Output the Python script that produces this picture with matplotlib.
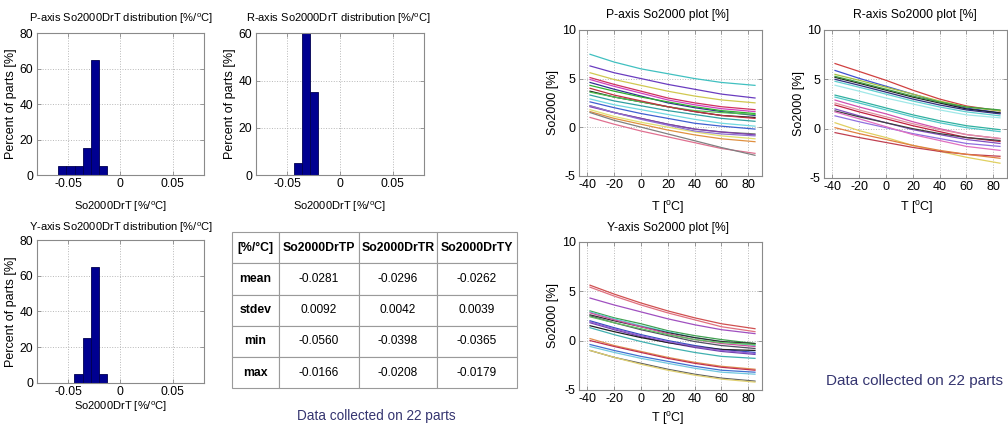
import numpy as np
import matplotlib
matplotlib.use("Agg")
import matplotlib.pyplot as plt

# ---- data ----
# histogram bins (edges) and percent of parts per bin
p_edges = [-0.0595, -0.0516, -0.0437, -0.0358, -0.0280, -0.0205, -0.0125]
p_pct = [5, 5, 5, 15, 65, 5]
r_edges = [-0.0436, -0.0356, -0.0281, -0.0206]
r_pct = [5, 60, 35]
y_edges = [-0.0440, -0.0358, -0.0280, -0.0205, -0.0125]
y_pct = [5, 25, 65, 5]

# summary table
tbl_cols = ["[%/°C]", "So2000DrTP", "So2000DrTR", "So2000DrTY"]
tbl_rows = ["mean", "stdev", "min", "max"]
tbl_vals = [
    ["-0.0281", "-0.0296", "-0.0262"],
    ["0.0092", "0.0042", "0.0039"],
    ["-0.0560", "-0.0398", "-0.0365"],
    ["-0.0166", "-0.0208", "-0.0179"],
]

# So2000 [%] vs temperature, one row per part
temps = [-38, -20, 0, 20, 40, 60, 85]
p_curves = [
    [7.5, 6.7, 6.0, 5.5, 5.0, 4.6, 4.3],
    [6.3, 5.6, 5.0, 4.4, 3.9, 3.4, 3.0],
    [5.6, 4.9, 4.3, 3.7, 3.2, 2.8, 2.5],
    [5.1, 4.4, 3.7, 3.0, 2.5, 2.1, 1.8],
    [4.9, 4.2, 3.5, 2.8, 2.3, 1.9, 1.6],
    [4.6, 3.9, 3.2, 2.5, 2.0, 1.6, 1.2],
    [4.3, 3.7, 3.1, 2.6, 2.1, 1.7, 1.4],
    [3.7, 3.1, 2.6, 2.1, 1.6, 1.2, 1.0],
    [3.6, 3.1, 2.6, 2.1, 1.7, 1.5, 1.3],
    [4.0, 3.3, 2.7, 2.1, 1.6, 1.2, 0.9],
    [2.9, 2.3, 1.8, 1.3, 0.8, 0.4, 0.1],
    [2.6, 2.0, 1.4, 0.9, 0.4, 0.1, -0.2],
    [2.2, 1.5, 0.9, 0.3, -0.2, -0.5, -0.7],
    [2.1, 1.5, 0.9, 0.3, -0.2, -0.5, -0.8],
    [1.6, 0.9, 0.3, -0.3, -0.8, -1.2, -1.5],
    [1.8, 1.1, 0.5, 0.0, -0.5, -0.9, -1.2],
    [1.0, 0.3, -0.4, -1.0, -1.6, -2.2, -2.7],
    [1.5, 0.7, 0.0, -0.7, -1.4, -2.1, -2.9],
    [2.2, 1.5, 0.8, 0.2, -0.4, -0.7, -0.9],
    [3.3, 2.7, 2.2, 1.7, 1.3, 0.9, 0.6],
]
r_curves = [
    [6.6, 5.8, 4.9, 3.9, 3.0, 2.3, 1.8],
    [5.9, 5.1, 4.3, 3.5, 2.7, 2.1, 1.6],
    [5.5, 4.9, 4.2, 3.5, 2.8, 2.2, 1.8],
    [5.2, 4.6, 3.9, 3.2, 2.6, 2.0, 1.6],
    [5.0, 4.4, 3.7, 3.0, 2.4, 1.9, 1.5],
    [5.3, 4.7, 4.0, 3.3, 2.7, 2.2, 1.9],
    [4.8, 4.2, 3.5, 2.8, 2.2, 1.7, 1.3],
    [4.4, 3.8, 3.1, 2.5, 1.9, 1.4, 1.1],
    [3.4, 2.8, 2.1, 1.4, 0.8, 0.3, -0.1],
    [3.2, 2.6, 1.9, 1.2, 0.6, 0.1, -0.3],
    [2.9, 2.2, 1.5, 0.7, 0.0, -0.6, -1.0],
    [2.4, 1.7, 1.0, 0.3, -0.3, -0.9, -1.3],
    [2.0, 1.3, 0.6, -0.1, -0.6, -1.1, -1.5],
    [1.8, 1.2, 0.6, 0.0, -0.5, -0.9, -1.2],
    [1.3, 0.7, 0.1, -0.5, -1.0, -1.5, -1.8],
    [1.7, 1.0, 0.2, -0.6, -1.2, -1.8, -2.2],
    [0.6, -0.2, -0.9, -1.7, -2.3, -2.9, -3.5],
    [-0.4, -0.9, -1.4, -1.9, -2.3, -2.6, -2.8],
    [0.1, -0.5, -1.1, -1.7, -2.2, -2.6, -3.0],
    [2.6, 1.9, 1.2, 0.5, -0.1, -0.6, -1.0],
]
y_curves = [
    [5.6, 4.7, 3.8, 3.0, 2.3, 1.7, 1.2],
    [5.4, 4.5, 3.6, 2.8, 2.1, 1.4, 0.9],
    [4.3, 3.6, 2.9, 2.2, 1.6, 1.1, 0.7],
    [3.0, 2.3, 1.7, 1.0, 0.5, 0.1, -0.3],
    [2.9, 2.2, 1.5, 0.9, 0.3, -0.1, -0.5],
    [2.6, 2.0, 1.4, 0.8, 0.3, -0.1, -0.3],
    [2.5, 1.8, 1.1, 0.5, -0.1, -0.5, -0.8],
    [2.0, 1.3, 0.6, 0.0, -0.5, -0.9, -1.2],
    [1.8, 1.1, 0.4, -0.2, -0.7, -1.1, -1.4],
    [1.5, 0.9, 0.3, -0.2, -0.6, -0.9, -1.0],
    [1.3, 0.6, -0.1, -0.7, -1.2, -1.6, -1.8],
    [0.2, -0.5, -1.1, -1.7, -2.2, -2.6, -2.9],
    [0.0, -0.6, -1.2, -1.8, -2.3, -2.7, -3.0],
    [-0.4, -1.0, -1.6, -2.1, -2.6, -3.0, -3.2],
    [-0.6, -1.2, -1.8, -2.3, -2.8, -3.2, -3.4],
    [-1.0, -1.7, -2.3, -2.9, -3.4, -3.8, -4.1],
    [-1.0, -1.7, -2.4, -3.0, -3.5, -3.9, -4.2],
    [2.8, 2.1, 1.4, 0.7, 0.1, -0.3, -0.6],
    [2.4, 1.8, 1.2, 0.6, 0.1, -0.2, -0.4],
    [1.9, 1.2, 0.5, -0.1, -0.6, -1.0, -1.3],
]

p_colors = ["#40c0c0", "#6a3cc0", "#d0c850", "#d03060", "#d040c0", "#303090",
            "#30b030", "#202020", "#50c050", "#c03040", "#70d8e0", "#4060d0",
            "#707070", "#8040b0", "#e09040", "#e0e070", "#e07090", "#808080",
            "#9070d0", "#30a0a0"]
r_colors = ["#d04040", "#4050d0", "#a0c040", "#202020", "#303080", "#40a040",
            "#60d0d0", "#a0e8e8", "#30b0a0", "#50c8c8", "#d050b0", "#c02040",
            "#8050c0", "#404040", "#9070e0", "#e070c0", "#e0d060", "#c04050",
            "#e08040", "#e090a0"]
y_colors = ["#d05050", "#e07080", "#a050c0", "#40a050", "#60d0d0", "#303030",
            "#505060", "#3050c0", "#7040b0", "#202020", "#40b0b0", "#e09050",
            "#c03050", "#4070d0", "#70c8e0", "#606060", "#e0d070", "#d050a0",
            "#60c060", "#9060d0"]

# ---- figure ----
W, H = 1008, 433
plt.rcParams["font.family"] = ["Liberation Sans", "DejaVu Sans"]
plt.rcParams["mathtext.fontset"] = "custom"
plt.rcParams["mathtext.rm"] = "Liberation Sans"
plt.rcParams["axes.unicode_minus"] = False
DEG = r"$^{\mathrm{o}}$"

fig = plt.figure(figsize=(W / 100, H / 100), dpi=100)


def box(l, t, r, b):
    return [l / W, 1 - b / H, (r - l) / W, (b - t) / H]


def put(x, y, s, **kw):
    kw.setdefault("ha", "center")
    kw.setdefault("va", "center")
    fig.text(x / W, 1 - y / H, s, **kw)


def matlab_style(ax, tsize):
    for sp in ax.spines.values():
        sp.set_color("#8a8a8a")
        sp.set_linewidth(0.8)
    ax.tick_params(direction="in", length=3, width=0.6, color="#8a8a8a",
                   labelsize=tsize, pad=2.5, top=True, right=True)
    ax.grid(True, linestyle=":", color="#b8b8b8", linewidth=0.7)
    ax.set_axisbelow(True)


def hist_panel(rect, edges, pct, ymax, title, tx, ty, lx, ly, yl_x):
    ax = fig.add_axes(box(*rect))
    ax.bar(edges[:-1], pct, width=np.diff(edges), align="edge",
           color="#000090", edgecolor="#000050", linewidth=0.6)
    ax.set_xlim(-0.08, 0.08)
    ax.set_ylim(0, ymax)
    ax.set_xticks([-0.05, 0, 0.05])
    ax.set_xticklabels(["-0.05", "0", "0.05"])
    ax.set_yticks(np.arange(0, ymax + 1, 20))
    matlab_style(ax, 8.7)
    put(tx, ty, title, fontsize=8)
    put(lx, ly, "So2000DrT [%/" + DEG + "C]", fontsize=8)
    put(yl_x, (rect[1] + rect[3]) / 2, "Percent of parts [%]", fontsize=9, rotation=90)
    return ax


hist_panel((36.7, 33.3, 204, 175), p_edges, p_pct, 80,
           "P-axis So2000DrT distribution [%/" + DEG + "C]", 121, 19, 121, 207, 11)
hist_panel((255.7, 33.3, 424.3, 175), r_edges, r_pct, 60,
           "R-axis So2000DrT distribution [%/" + DEG + "C]", 338, 19, 340, 207, 230)
hist_panel((36.7, 240, 204, 382.7), y_edges, y_pct, 80,
           "Y-axis So2000DrT distribution [%/" + DEG + "C]", 121, 228, 121, 407, 11)


def curve_panel(rect, curves, colors, title, tx, ty, lx, ly, yl_x):
    ax = fig.add_axes(box(*rect))
    for vals, c in zip(curves, colors):
        ax.plot(temps, vals, color=c, linewidth=0.9)
    ax.set_xlim(-46, 90)
    ax.set_ylim(-5, 10)
    ax.set_xticks([-40, -20, 0, 20, 40, 60, 80])
    ax.set_yticks([-5, 0, 5, 10])
    matlab_style(ax, 9)
    put(tx, ty, title, fontsize=8.7)
    put(lx, ly, "T [" + DEG + "C]", fontsize=9)
    put(yl_x, (rect[1] + rect[3]) / 2, "So2000 [%]", fontsize=9, rotation=90)
    return ax


curve_panel((579.3, 30, 761.7, 175.7), p_curves, p_colors,
            "P-axis So2000 plot [%]", 668, 15, 668, 208, 553)
curve_panel((824.3, 30, 1006.7, 178), r_curves, r_colors,
            "R-axis So2000 plot [%]", 915, 15, 917, 208, 799)
curve_panel((579.3, 241.7, 761.7, 390), y_curves, y_colors,
            "Y-axis So2000 plot [%]", 668, 228, 668, 418, 553)

# ---- table ----
tax = fig.add_axes(box(231.7, 231.7, 516.7, 388.3))
tax.axis("off")
cells = [tbl_cols] + [[lab] + v for lab, v in zip(tbl_rows, tbl_vals)]
tbl = tax.table(cellText=cells, cellLoc="center", bbox=[0, 0, 1, 1])
tbl.auto_set_font_size(False)
col_w = [47.6, 79.0, 78.4, 79.4]
for (r, c), cell in tbl.get_celld().items():
    cell.set_width(col_w[c])
    cell.set_height(31.6 if r == 0 else 31.2)
    cell.set_edgecolor("#9a9a9a")
    cell.set_linewidth(0.8)
    t = cell.get_text()
    if r == 0 or c == 0:
        t.set_fontweight("bold")
        t.set_fontsize(8.8)
    else:
        t.set_fontsize(8.6)

put(376, 416, "Data collected on 22 parts", fontsize=9.8, color="#353570")
put(914, 381, "Data collected on 22 parts", fontsize=11, color="#353570")

fig.savefig("out.png", dpi=100, facecolor="white")
